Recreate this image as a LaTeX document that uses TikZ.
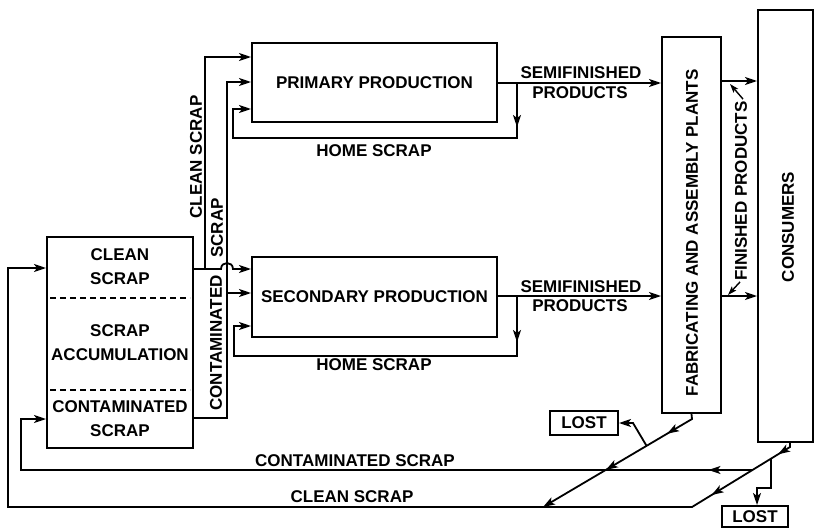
\documentclass[tikz,border=0pt]{standalone}
\usepackage{fontspec}
\setmainfont{Liberation Sans}
\usetikzlibrary{arrows.meta,calc,decorations.markings}
\tikzset{
  myhead/.tip={Stealth[length=12pt,width=8pt,inset=3pt]},
  ln/.style={line width=1.8pt, line join=miter},
  arr/.style={ln,-myhead},
  marr/.style={postaction={decorate,decoration={markings,mark=at position #1 with {\arrow{myhead}}}}},
  lbl/.style={font=\fontsize{17}{24}\selectfont\bfseries, inner sep=0pt, align=center},
  box/.style={draw, line width=2pt, inner sep=0pt, font=\fontsize{17}{24}\selectfont\bfseries, align=center},
}
\begin{document}
\begin{tikzpicture}[x=1pt,y=-1pt]
\useasboundingbox (0,0) rectangle (821,530);
% boxes
\node[box, minimum width=146pt, minimum height=211pt] (acc) at (120,342.5) {};
\node[box, minimum width=245pt, minimum height=79pt] (prim) at (374.5,82.5) {PRIMARY PRODUCTION};
\node[box, minimum width=245pt, minimum height=80pt] (sec) at (374.5,297) {SECONDARY PRODUCTION};
\node[box, minimum width=59pt, minimum height=376pt] (fab) at (691.5,225) {};
\node[box, minimum width=55pt, minimum height=432pt] (cons) at (785.5,226) {};
\node[box, minimum width=68pt, minimum height=24pt] (lost1) at (584,423) {LOST};
\node[box, minimum width=66pt, minimum height=21pt] (lost2) at (755,516.5) {LOST};
% scrap accumulation parts
\coordinate (d1a) at (50,298); \coordinate (d1b) at (190,298);
\coordinate (d2a) at (50,390); \coordinate (d2b) at (190,390);
\draw[line width=1.3pt, dash pattern=on 6pt off 4pt] (d1a) -- (d1b);
\draw[line width=1.3pt, dash pattern=on 6pt off 4pt] (d2a) -- (d2b);
\node[lbl] (tcl) at (120,267) {CLEAN\\SCRAP};
\node[lbl] (tac) at (120,343) {SCRAP\\ACCUMULATION};
\node[lbl] (tco) at (120,419) {CONTAMINATED\\SCRAP};
\node[lbl, rotate=90] (tfab) at (692,233) {FABRICATING AND ASSEMBLY PLANTS};
\node[lbl, rotate=90] (tcons) at (788,227) {CONSUMERS};
% clean scrap to production
\coordinate (cj) at (205,269);
\coordinate (cu) at (205,57);
\draw[arr] (acc.east |- cj) -- (cj) -- (cu) -- (prim.west |- cu);
\coordinate (h1) at (221,269); \coordinate (h2) at (233,269);
\draw[arr] (cj) -- (h1) .. controls (221,261) and (233,261) .. (h2) -- (sec.west |- h2);
\node[lbl, rotate=90] (lcs) at (196,157) {CLEAN SCRAP};
% contaminated scrap to production
\coordinate (kb) at (227,418); \coordinate (ku) at (227,82); \coordinate (km) at (227,293);
\draw[arr] (acc.east |- kb) -- (kb) -- (ku) -- (prim.west |- ku);
\draw[arr] (km) -- (sec.west |- km);
\node[lbl, rotate=90] (lks) at (217,228) {SCRAP};
\node[lbl, rotate=90] (lkc) at (216,343) {CONTAMINATED};
% semifinished products
\coordinate (p1) at (497,83);
\draw[arr] (prim.east |- p1) -- (fab.west |- p1);
\node[lbl] (sf1) at (581,73) {SEMIFINISHED};
\node[lbl] (sp1) at (580,93) {PRODUCTS};
\coordinate (s1) at (497,296);
\draw[arr] (sec.east |- s1) -- (fab.west |- s1);
\node[lbl] (sf2) at (581,287) {SEMIFINISHED};
\node[lbl] (sp2) at (580,306) {PRODUCTS};
% home scrap loops
\coordinate (ha) at (517,83); \coordinate (hb) at (517,127); \coordinate (hc) at (517,138);
\coordinate (hd) at (233,138); \coordinate (he) at (233,109);
\draw[arr] (ha) -- (hb);
\draw[arr] (517,124) -- (hc) -- (hd) -- (he) -- (prim.west |- he);
\node[lbl] (hs1) at (374,151) {HOME SCRAP};
\coordinate (ga) at (517,296); \coordinate (gb) at (517,342); \coordinate (gc) at (517,356);
\coordinate (gd) at (234,356); \coordinate (ge) at (234,326);
\draw[arr] (ga) -- (gb);
\draw[arr] (517,339) -- (gc) -- (gd) -- (ge) -- (sec.west |- ge);
\node[lbl] (hs2) at (374,365) {HOME SCRAP};
% finished products
\coordinate (q1) at (721,81); \coordinate (q2) at (721,296);
\draw[arr] (fab.east |- q1) -- (cons.west |- q1);
\draw[arr] (fab.east |- q2) -- (cons.west |- q2);
\node[lbl, rotate=90] (fp) at (741,191) {FINISHED PRODUCTS};
\coordinate (fpa) at (730,84); \coordinate (fpb) at (728,295);
\draw[line width=1.4pt, -{Stealth[length=9pt,width=6pt,inset=2pt]}] (fp.east) ++(2,-2) -- (fpa);
\draw[line width=1.4pt, -{Stealth[length=9pt,width=6pt,inset=2pt]}] (fp.west) ++(-1,1) -- (fpb);
% from fabricating plants
\coordinate (f1) at (692,419); \coordinate (f2) at (543,507);
\draw[arr, marr=34pt, marr=105pt] (fab.south) -- (f1) -- (f2);
\coordinate (b1) at ($(f1)!0.305!(f2)$);
\coordinate (b2) at (633,423);
\draw[arr] (b1) -- (b2) -- (lost1.east |- b2);
% from consumers
\coordinate (c0) at (790,442); \coordinate (c1) at (790,447); \coordinate (c2) at (692,507);
\coordinate (cb) at (8,507); \coordinate (ct) at (8,268);
\draw[arr, marr=18pt, marr=96pt] (cons.south -| c0) -- (c1) -- (c2) -- (cb) -- (ct) -- (acc.west |- ct);
\coordinate (cc) at ($(c1)!0.383!(c2)$);
\coordinate (kk1) at (21,470); \coordinate (kk2) at (21,419);
\draw[arr, marr=44pt] (cc) -- (cc -| kk1) -- (kk2) -- (acc.west |- kk2);
\coordinate (cl) at ($(c1)!0.19!(c2)$);
\coordinate (l1) at (757,488);
\draw[arr] (cl) -- (cl |- l1) -- (l1) -- (lost2.north -| l1);
\node[lbl] (lcont) at (355,461) {CONTAMINATED SCRAP};
\node[lbl] (lclean) at (352,497) {CLEAN SCRAP};
\end{tikzpicture}
\end{document}
